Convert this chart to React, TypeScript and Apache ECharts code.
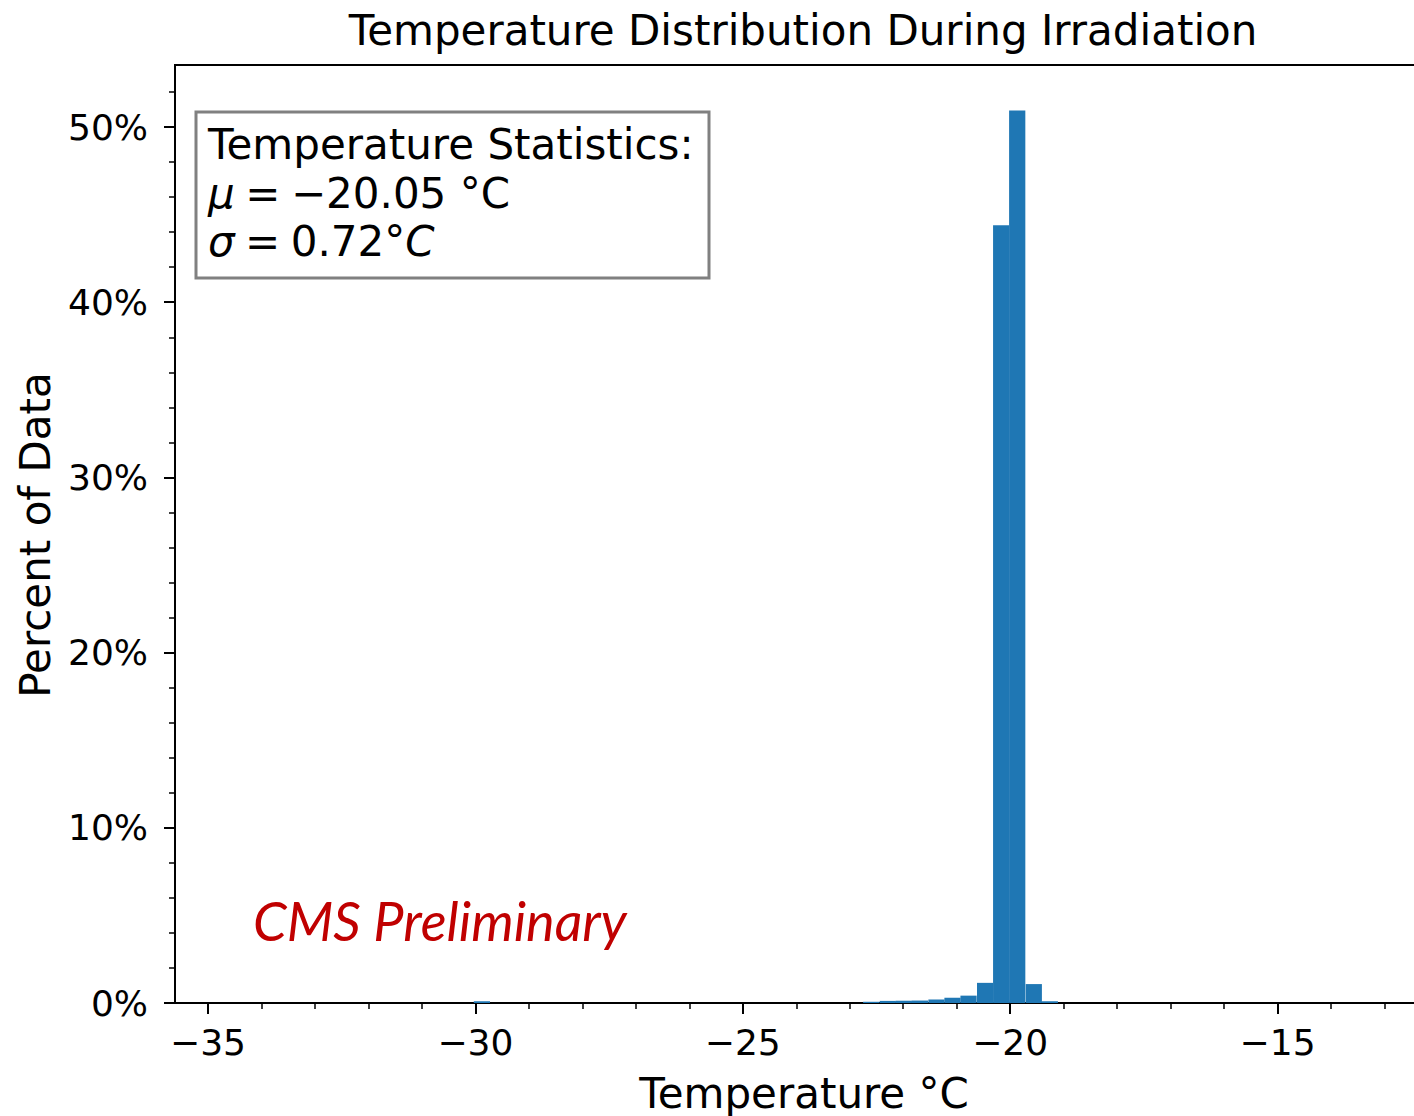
import React, { useEffect, useRef } from "react";
import * as echarts from "echarts";

const binWidth = 0.3034;
const binStarts = [-30.03, -22.75, -22.44, -22.14, -21.84, -21.53, -21.23, -20.93, -20.62, -20.32, -20.02, -19.71, -19.41];
const binPercents = [0.1, 0.07, 0.12, 0.13, 0.14, 0.2, 0.3, 0.42, 1.15, 44.4, 50.95, 1.08, 0.1];
const xMajorTicks = [-35, -30, -25, -20, -15];
const xMinorTicks = [-35, -34, -33, -32, -31, -30, -29, -28, -27, -26, -25, -24, -23, -22, -21, -20, -19, -18, -17, -16, -15, -14, -13];
const yMajorTicks = [0, 10, 20, 30, 40, 50];
const yMinorTicks = [0, 2, 4, 6, 8, 10, 12, 14, 16, 18, 20, 22, 24, 26, 28, 30, 32, 34, 36, 38, 40, 42, 44, 46, 48, 50, 52];
const titleText = "Temperature Distribution During Irradiation";
const xName = "Temperature °C";
const yName = "Percent of Data";
const statsHeader = "Temperature Statistics:";
const meanText = "−20.05 °C";
const sigmaText = "0.72°";
const watermark = "CMS Preliminary";

const FONT = "DejaVu Sans";
const SP = "\u2005";

export default function App() {
  const ref = useRef<HTMLDivElement>(null);
  useEffect(() => {
    if (!ref.current) return;
    const chart = echarts.init(ref.current, null, { renderer: "svg" });
    const data = binStarts.map((s, i) => [s, s + binWidth, binPercents[i]]);
    const axisCommon = {
      type: "value" as const,
      splitLine: { show: false },
    };
    chart.setOption({
      animation: false,
      backgroundColor: "#ffffff",
      grid: {
        left: 175,
        top: 65,
        right: 2,
        bottom: 113,
        show: true,
        borderColor: "#000",
        borderWidth: 2,
        containLabel: false,
      },
      xAxis: [
        {
          ...axisCommon,
          min: -35.617,
          max: -12.0,
          position: "bottom",
          axisLine: { show: true, lineStyle: { color: "#000", width: 2 } },
          axisTick: { show: true, customValues: xMajorTicks, length: 11, lineStyle: { color: "#000", width: 2 } },
          axisLabel: {
            customValues: xMajorTicks,
            formatter: (v: number) => String(v).replace("-", "−"),
            fontFamily: FONT,
            fontSize: 36,
            color: "#000",
            margin: 21,
          },
        },
        {
          ...axisCommon,
          min: -35.617,
          max: -12.0,
          position: "bottom",
          axisLine: { show: false },
          axisTick: { show: true, customValues: xMinorTicks, length: 6, lineStyle: { color: "#000", width: 1.5 } },
          axisLabel: { show: false },
        },
      ],
      yAxis: [
        {
          ...axisCommon,
          min: 0,
          max: 53.54,
          position: "left",
          axisLine: { show: true, lineStyle: { color: "#000", width: 2 } },
          axisTick: { show: true, customValues: yMajorTicks, length: 11, lineStyle: { color: "#000", width: 2 } },
          axisLabel: {
            customValues: yMajorTicks,
            formatter: (v: number) => `${v}%`,
            fontFamily: FONT,
            fontSize: 36,
            color: "#000",
            margin: 27,
          },
        },
        {
          ...axisCommon,
          min: 0,
          max: 53.54,
          position: "left",
          axisLine: { show: false },
          axisTick: { show: true, customValues: yMinorTicks, length: 6, lineStyle: { color: "#000", width: 1.5 } },
          axisLabel: { show: false },
        },
      ],
      series: [
        {
          type: "custom",
          xAxisIndex: 0,
          yAxisIndex: 0,
          data,
          encode: { x: [0, 1], y: 2 },
          renderItem: (params: any, api: any) => {
            const p0 = api.coord([api.value(0), 0]);
            const p1 = api.coord([api.value(1), api.value(2)]);
            return {
              type: "rect",
              shape: { x: p0[0], y: p1[1], width: p1[0] - p0[0], height: p0[1] - p1[1] },
              style: { fill: "#1f77b4" },
            };
          },
        },
      ],
      graphic: [
        {
          type: "text",
          x: 803,
          y: 30,
          style: { text: titleText, font: `42px "${FONT}"`, fill: "#000", align: "center", verticalAlign: "middle" },
        },
        {
          type: "text",
          x: 804,
          y: 1093,
          style: { text: xName, font: `42px "${FONT}"`, fill: "#000", align: "center", verticalAlign: "middle" },
        },
        {
          type: "text",
          x: 35,
          y: 535,
          rotation: Math.PI / 2,
          style: { text: yName, font: `42px "${FONT}"`, fill: "#000", align: "center", verticalAlign: "middle" },
        },
        {
          type: "rect",
          shape: { x: 196, y: 112, width: 513, height: 166 },
          style: { fill: "#fff", stroke: "#808080", lineWidth: 3 },
          z: 10,
        },
        {
          type: "text",
          x: 208,
          y: 144,
          z: 11,
          style: { text: statsHeader, font: `42px "${FONT}"`, fill: "#000", align: "left", verticalAlign: "middle" },
        },
        {
          type: "text",
          x: 208,
          y: 193,
          z: 11,
          style: {
            text: `{i|μ}${SP}=${SP}${meanText}`,
            font: `42px "${FONT}"`,
            fill: "#000",
            align: "left",
            verticalAlign: "middle",
            rich: { i: { fontStyle: "italic", fontFamily: FONT, fontSize: 42, fill: "#000" } },
          },
        },
        {
          type: "text",
          x: 208,
          y: 241,
          z: 11,
          style: {
            text: `{i|σ}${SP}=${SP}${sigmaText}{i|C}`,
            font: `42px "${FONT}"`,
            fill: "#000",
            align: "left",
            verticalAlign: "middle",
            rich: { i: { fontStyle: "italic", fontFamily: FONT, fontSize: 42, fill: "#000" } },
          },
        },
        {
          type: "text",
          x: 253,
          y: 920,
          z: 11,
          style: { text: watermark, font: `italic 54px Lato`, fill: "#c00000", align: "left", verticalAlign: "middle" },
        },
      ],
    });
    return () => chart.dispose();
  }, []);
  return (
    <div style={{ position: "fixed", left: 0, top: 0, width: 1414, height: 1116, overflow: "hidden", background: "#fff" }}>
      <div ref={ref} style={{ width: 1440, height: 1116 }} />
    </div>
  );
}
